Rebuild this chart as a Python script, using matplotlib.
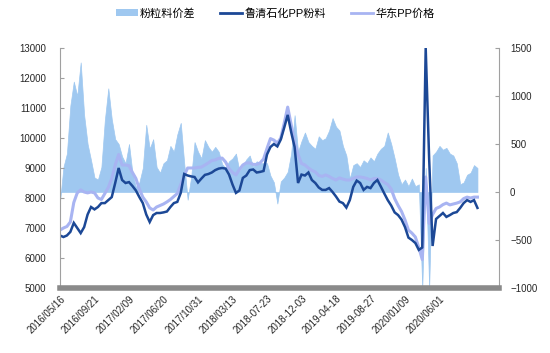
import matplotlib
matplotlib.use("Agg")
import matplotlib.pyplot as plt
from matplotlib.patches import Patch
from matplotlib.lines import Line2D
import numpy as np

plt.rcParams['font.family'] = ['Liberation Sans', 'Noto Sans CJK SC', 'DejaVu Sans']

tick_labels = ["2016/05/16", "2016/09/21", "2017/02/09", "2017/06/20", "2017/10/31",
               "2018/03/13", "2018-07-23", "2018-12-03", "2019-04-18", "2019-08-27",
               "2020/01/09", "2020/06/01"]
points_per_label = 10

# 鲁清石化PP粉料 (left axis)
powder = [6750, 6700, 6750, 6870, 7170, 7000, 6830, 7030, 7450, 7700,
          7620, 7700, 7830, 7830, 7930, 8030, 8500, 9000, 8600, 8500,
          8530, 8400, 8250, 8030, 7830, 7450, 7200, 7430, 7500, 7500,
          7520, 7550, 7700, 7830, 7870, 8170, 8800, 8750, 8720, 8700,
          8520, 8650, 8770, 8800, 8850, 8930, 8980, 9000, 8980, 8780,
          8450, 8170, 8250, 8670, 8750, 8930, 8950, 8850, 8870, 8900,
          9450, 9700, 9800, 9720, 9950, 10350, 10770, 10200, 9700, 8500,
          8780, 8750, 8850, 8600, 8500, 8350, 8270, 8270, 8330, 8200,
          8050, 7880, 7830, 7680, 7930, 8370, 8580, 8500, 8270, 8370,
          8330, 8500, 8600, 8380, 8150, 7930, 7750, 7520, 7430, 7280,
          7030, 6680, 6600, 6500, 6270, 6350, 13000, 9300, 6400, 7300,
          7400, 7500, 7370, 7430, 7500, 7530, 7670, 7830, 7930, 7870,
          7930, 7670]

# 华东PP价格 (left axis)
east_china = [6930, 7000, 7050, 7200, 7850, 8170, 8270, 8200, 8170, 8200,
              8170, 8000, 7950, 8150, 8350, 8650, 9100, 9450, 9100, 9100,
              9080, 8850, 8650, 8300, 8030, 7870, 7670, 7600, 7700, 7750,
              7800, 7870, 7950, 8050, 8150, 8450, 8750, 9000, 9000, 9000,
              9020, 9030, 9100, 9170, 9250, 9270, 9320, 9330, 9200, 8980,
              8850, 8770, 8950, 9100, 9170, 9170, 9120, 9120, 9170, 9300,
              9650, 9980, 9930, 9830, 10000, 10500, 11030, 10450, 9850, 9450,
              9150, 9100, 9000, 8920, 8870, 8750, 8720, 8770, 8720, 8650,
              8600, 8670, 8630, 8600, 8600, 8650, 8700, 8700, 8680, 8650,
              8600, 8650, 8650, 8600, 8520, 8450, 8300, 7980, 7750, 7550,
              7270, 6930, 6830, 6700, 6350, 5950, 8700, 7150, 7450, 7650,
              7700, 7780, 7830, 7770, 7800, 7830, 7870, 7980, 8030, 8000,
              8030, 8030]

# 粉粒料价差 (right axis)
spread = [-100, 260, 400, 900, 1150, 1000, 1350, 800, 500, 330,
          150, 130, 260, 750, 1080, 760, 550, 500, 370, 300,
          500, 200, 50, 100, 250, 700, 450, 550, 260, 200,
          300, 330, 480, 420, 600, 720, 300, -80, 150, 520,
          420, 350, 540, 470, 420, 470, 420, 290, 250, 320,
          350, 400, 220, 270, 340, 380, 260, 320, 300, 300,
          300, 170, 100, -120, 110, 150, 210, 400, 800, 420,
          530, 620, 520, 480, 450, 580, 540, 560, 640, 770,
          680, 640, 480, 380, 140, 280, 300, 260, 330, 300,
          360, 320, 400, 450, 480, 620, 500, 350, 180, 80,
          130, 60, 140, 60, 80, -1000, 250, -1000, 380, 420,
          480, 440, 460, 400, 380, 300, 80, 100, 180, 200,
          280, 250]

n = len(powder)
x = np.arange(n)

fig = plt.figure(figsize=(5.5, 3.53), dpi=100)
ax = fig.add_axes([60/550, 1-288/353, (499-60)/550, (288-48)/353])
ax2 = ax.twinx()

area_color = '#9fc8f0'
dark_color = '#1c4896'
purple_color = '#a8b4f2'

ax2.fill_between(x, 0, spread, color=area_color, linewidth=0.5, edgecolor=area_color)
ax2.set_ylim(-1000, 1500)
ax2.set_yticks(np.arange(-1000, 1501, 500))

ax.plot(x, east_china, color=purple_color, lw=2.2, solid_joinstyle='round')
ax.plot(x, powder, color=dark_color, lw=1.8, solid_joinstyle='miter')
ax.set_ylim(5000, 13000)
ax.set_yticks(np.arange(5000, 13001, 1000))

ax.set_zorder(ax2.get_zorder() + 1)
ax.patch.set_visible(False)

ax.set_xlim(0, (499-60)/3.45)
ticks = np.arange(len(tick_labels)) * points_per_label
ax.set_xticks(ticks)
ax.set_xticklabels(tick_labels, rotation=45, ha='right', va='top',
                   rotation_mode='anchor', fontsize=7, color='#262626')
ax.tick_params(axis='x', length=0, pad=4)

spine_gray = '#a0a0a0'
for a in (ax, ax2):
    a.spines['top'].set_visible(False)
    a.spines['left'].set_color(spine_gray)
    a.spines['right'].set_color(spine_gray)
    a.spines['left'].set_linewidth(0.8)
    a.spines['right'].set_linewidth(0.8)
    a.spines['bottom'].set_visible(False)
ax.spines['bottom'].set_visible(True)
ax.spines['bottom'].set_color('#8a8a8a')
ax.spines['bottom'].set_linewidth(4)
ax.spines['right'].set_visible(False)
ax2.spines['left'].set_visible(False)

ax.tick_params(axis='y', direction='in', length=3, color=spine_gray,
               labelsize=7, labelcolor='#262626', pad=10)
ax2.tick_params(axis='y', direction='in', length=3, color=spine_gray,
                labelsize=7, labelcolor='#262626', pad=8)

handles = [Patch(facecolor=area_color, edgecolor='none'),
           Line2D([], [], color=dark_color, lw=2.0),
           Line2D([], [], color=purple_color, lw=2.0)]
labels = ['粉粒料价差', '鲁清石化PP粉料', '华东PP价格']
fig.legend(handles, labels, loc='center', bbox_to_anchor=(0.5, 0.962), ncol=3,
           frameon=False, fontsize=8, handlelength=2.0, handleheight=0.6,
           columnspacing=2.2, handletextpad=0.2)

fig.savefig('out.png', dpi=100)
